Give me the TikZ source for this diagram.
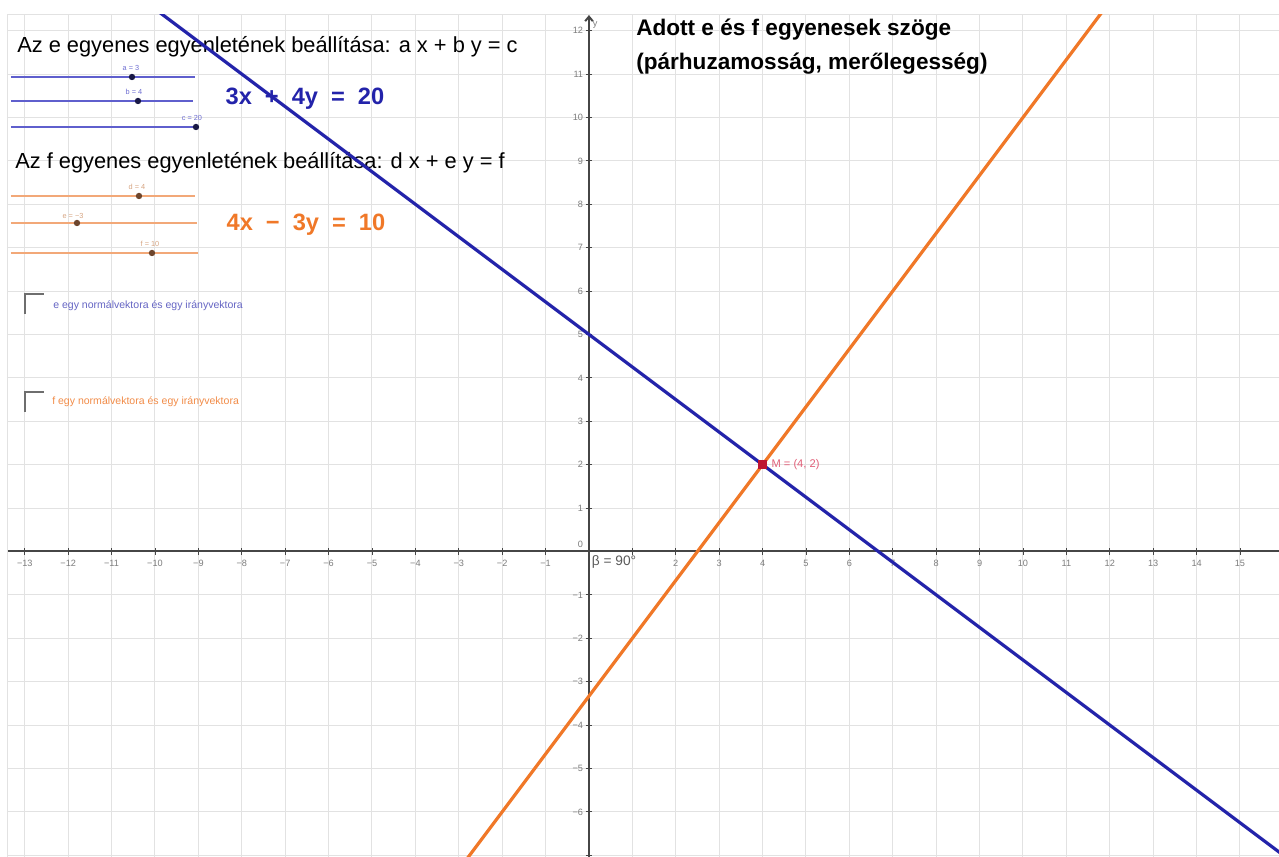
\documentclass[tikz,border=0pt]{standalone}
\usepackage{fontspec}
\setmainfont{Liberation Sans}
\usetikzlibrary{arrows.meta}
\definecolor{eblue}{RGB}{35,35,170}
\definecolor{forange}{RGB}{240,120,40}
\definecolor{gridc}{RGB}{226,226,226}
\definecolor{axisc}{RGB}{70,70,70}
\definecolor{tickc}{RGB}{125,125,125}
\definecolor{sblue}{RGB}{95,95,205}
\definecolor{sorange}{RGB}{242,168,120}
\definecolor{sbluedot}{RGB}{25,25,70}
\definecolor{sorangedot}{RGB}{110,70,45}
\definecolor{sbluelbl}{RGB}{110,110,210}
\definecolor{sorangelbl}{RGB}{215,165,130}
\definecolor{mred}{RGB}{190,20,50}
\definecolor{mlbl}{RGB}{225,95,120}
\definecolor{boxc}{RGB}{110,110,110}
\tikzset{
  gridline/.style={draw=gridc, line width=0.65pt},
  axisline/.style={draw=axisc, line width=1.3pt},
  ticklbl/.style={text=tickc, font=\fontsize{6}{6}\selectfont, inner sep=0pt},
  headtxt/.style={anchor=west, inner sep=0pt, font=\fontsize{14.3}{17}\selectfont},
  titletxt/.style={anchor=west, inner sep=0pt, font=\fontsize{14.8}{18}\bfseries},
  eqtxt/.style={inner sep=0pt, font=\fontsize{15.5}{18}\bfseries},
  sliderlbl/.style={inner sep=0pt, font=\fontsize{4.8}{5}\selectfont},
  sdot/.style={circle, inner sep=0pt, minimum size=4.2pt},
  bslider/.style={draw=sblue, line width=1.4pt},
  oslider/.style={draw=sorange, line width=1.5pt},
  cbox/.style={draw=boxc, line width=1.3pt},
  cbtxt/.style={anchor=west, inner sep=0pt, font=\fontsize{6.9}{8}\selectfont},
  eline/.style={draw=eblue, line width=2.1pt},
  fline/.style={draw=forange, line width=2.1pt},
}
\begin{document}
\begin{tikzpicture}[x=1cm,y=1cm]
\useasboundingbox (-13.571,-7.039) rectangle (15.899,12.707);
\fill[white] (-13.571,-7.039) rectangle (15.899,12.707);
% grid
\begin{scope}
\clip (-13.387,-7.039) rectangle (15.899,12.362);
\foreach \i in {-13,...,15} \draw[gridline] (\i,-7.2) -- (\i,12.5);
\foreach \j in {-7,...,12} \draw[gridline] (-13.5,\j) -- (16,\j);
\end{scope}
\draw[gridline] (-13.387,-7.039) -- (-13.387,12.362) -- (15.899,12.362);
% axes
\draw[axisline] (-13.387,0) -- (15.899,0);
\draw[axisline, -{Straight Barb[length=3pt,width=5pt]}] (0,-7.039) -- (0,12.36);
\foreach \i in {-13,...,-1,1,2,...,15} \draw[draw=axisc, line width=0.6pt] (\i,-0.07) -- (\i,0.07);
\foreach \j in {-7,...,-1,1,2,...,12} \draw[draw=axisc, line width=0.6pt] (-0.07,\j) -- (0.07,\j);
\foreach \i in {-13,...,-1} \node[ticklbl] (xl\i) at (\i,-0.27) {−\the\numexpr-\i\relax};
\foreach \i in {2,...,15} \node[ticklbl] (xl\i) at (\i,-0.27) {\i};
\foreach \j in {1,...,12} \node[ticklbl, anchor=east] (yl\j) at (-0.13,\j) {\j};
\foreach \j in {-6,...,-1} \node[ticklbl, anchor=east] (yl\j) at (-0.13,\j) {−\the\numexpr-\j\relax};
\node[ticklbl, anchor=east] (yl0) at (-0.13,0.16) {0};
\node[ticklbl, anchor=west] (ylab) at (0.08,12.13) {y};
\node[anchor=west, inner sep=0pt, text={rgb,255:red,90;green,90;blue,90}, font=\fontsize{9}{10}\selectfont] (beta) at (0.06,-0.24) {β = 90°};

% overlay in pixel coordinates
\begin{scope}[shift={(-13.571,12.707)}, x=0.023041cm, y=-0.023041cm]
\node[headtxt] (he) at (17,47) {Az e egyenes egyenletének beállítása: a x + b y = c};
\node[headtxt] (hf) at (15,163) {Az f egyenes egyenletének beállítása: d x + e y = f};
\node[titletxt] (t1) at (636,30) {Adott e és f egyenesek szöge};
\node[titletxt] (t2) at (636,64) {(párhuzamosság, merőlegesség)};
\node[eqtxt, text=eblue] (eqe) at (305,99) {3x\hspace{0.55em}+\hspace{0.55em}4y\hspace{0.55em}=\hspace{0.55em}20};
\node[eqtxt, text=forange] (eqf) at (306,225) {4x\hspace{0.55em}−\hspace{0.55em}3y\hspace{0.55em}=\hspace{0.55em}10};
% sliders e
\draw[bslider] (11,77) -- (195,77);
\draw[bslider] (11,101) -- (193,101);
\draw[bslider] (11,127) -- (197,127);
\node[sdot, fill=sbluedot] (sa) at (132,77) {};
\node[sdot, fill=sbluedot] (sb) at (138,101) {};
\node[sdot, fill=sbluedot] (sc) at (196,127) {};
\node[sliderlbl, text=sbluelbl] (la) at (131,68) {a = 3};
\node[sliderlbl, text=sbluelbl] (lb) at (134,92) {b = 4};
\node[sliderlbl, text=sbluelbl] (lc) at (192,118) {c = 20};
% sliders f
\draw[oslider] (11,196) -- (195,196);
\draw[oslider] (11,223) -- (197,223);
\draw[oslider, line width=1.9pt] (11,253) -- (198,253);
\node[sdot, fill=sorangedot] (sd) at (139,196) {};
\node[sdot, fill=sorangedot] (se) at (77,223) {};
\node[sdot, fill=sorangedot] (sf) at (152,253) {};
\node[sliderlbl, text=sorangelbl] (ld) at (137,187) {d = 4};
\node[sliderlbl, text=sorangelbl] (le) at (73,216) {e = −3};
\node[sliderlbl, text=sorangelbl] (lf) at (150,244) {f = 10};
% checkboxes
\draw[cbox] (25,314) -- (25,294) -- (44,294);
\node[cbtxt, text=eblue!70] (cbe) at (53,306) {e egy normálvektora és egy irányvektora};
\draw[cbox] (25,412) -- (25,392) -- (44,392);
\node[cbtxt, text=forange!85] (cbf) at (52,402) {f egy normálvektora és egy irányvektora};
\end{scope}

% lines e and f
\begin{scope}
\clip (-13.387,-7.039) rectangle (15.899,12.362);
\coordinate (e1) at (-12,14);
\coordinate (e2) at (17,-7.75);
\draw[eline] (e1) -- (e2);
\coordinate (f1) at (-3.5,-8);
\coordinate (f2) at (12.25,13);
\draw[fline] (f1) -- (f2);
\end{scope}
\node[fill=mred, inner sep=0pt, minimum size=5.5pt] (M) at (4,2) {};
\node[anchor=west, inner sep=0pt, text=mlbl, font=\fontsize{7.3}{8}\selectfont] (ML) at (4.2,2) {M = (4, 2)};
\end{tikzpicture}
\end{document}
